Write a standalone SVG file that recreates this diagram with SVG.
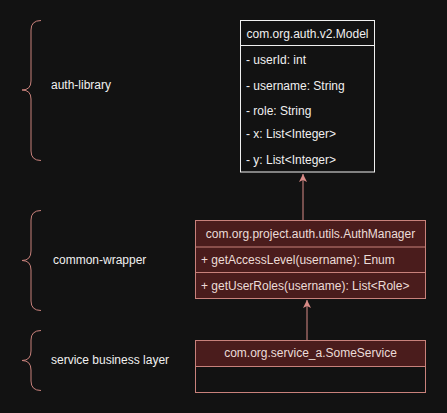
<svg xmlns="http://www.w3.org/2000/svg" width="447" height="413" viewBox="0 0 447 413">
<defs>
<style>
.t{font-family:"Liberation Sans",Arial,sans-serif;font-size:12px;}
.w{fill:#f0f0f0;}
.r{fill:#ecdcd8;}
.brace{fill:none;stroke:#c8817b;stroke-width:1;}
.box{fill:#4a1c1c;stroke:#c8817b;stroke-width:1;}
.mbox{fill:#121212;stroke:#f0f0f0;stroke-width:1;}
.edge{stroke:#d88a86;stroke-width:1;fill:none;}
</style>
<marker id="arr" viewBox="0 0 10 10" refX="10" refY="5" markerWidth="8" markerHeight="8" markerUnits="userSpaceOnUse" orient="auto">
<path d="M0,0 L10,5 L0,10 L2.5,5 Z" fill="#d88a86"/>
</marker>
</defs>
<rect width="447" height="413" fill="#121212"/>

<g id="brace-auth-library">
<path class="brace" d="M41,20.5 Q31,20.5 31,30 L31,81 Q31,90 22,90 Q31,90 31,99 L31,151 Q31,160.5 41,160.5"/>
<text class="t w" x="51" y="89">auth-library</text>
</g>
<g id="brace-common-wrapper">
<path class="brace" d="M41,210.5 Q31,210.5 31,220 L31,251 Q31,260.5 22,260.5 Q31,260.5 31,270 L31,301 Q31,310.5 41,310.5"/>
<text class="t w" x="53" y="264">common-wrapper</text>
</g>
<g id="brace-service">
<path class="brace" d="M41,330.5 Q31,330.5 31,340 L31,351 Q31,360.5 22,360.5 Q31,360.5 31,370 L31,381 Q31,390.5 41,390.5"/>
<text class="t w" x="51" y="364">service business layer</text>
</g>

<g id="model">
<rect class="mbox" x="240.5" y="20.5" width="134" height="151.5"/>
<line class="mbox" x1="240.5" y1="45.5" x2="374.5" y2="45.5"/>
<text class="t w" x="307.5" y="37.5" text-anchor="middle">com.org.auth.v2.Model</text>
<text class="t w" x="246" y="64">- userId: int</text>
<text class="t w" x="246" y="90">- username: String</text>
<text class="t w" x="246" y="115">- role: String</text>
<text class="t w" x="246" y="138">- x: List&lt;Integer&gt;</text>
<text class="t w" x="246" y="164">- y: List&lt;Integer&gt;</text>
</g>

<g id="authmanager">
<rect class="box" x="195.5" y="220.5" width="230" height="78"/>
<line class="box" x1="195.5" y1="247" x2="425.5" y2="247"/>
<line class="box" x1="195.5" y1="272.5" x2="425.5" y2="272.5"/>
<text class="t r" x="310.5" y="237.5" text-anchor="middle">com.org.project.auth.utils.AuthManager</text>
<text class="t r" x="201" y="264">+ getAccessLevel(username): Enum</text>
<text class="t r" x="201" y="290">+ getUserRoles(username): List&lt;Role&gt;</text>
</g>

<g id="someservice">
<rect class="box" x="195.5" y="340.5" width="230" height="52"/>
<line class="mbox" style="stroke:#c8817b" x1="195.5" y1="366.5" x2="425.5" y2="366.5"/>
<rect x="196" y="367" width="229" height="25" fill="#121212"/>
<text class="t r" x="310.5" y="357" text-anchor="middle">com.org.service_a.SomeService</text>
</g>

<g id="connectors">
<line class="edge" x1="303" y1="220" x2="303" y2="174" marker-end="url(#arr)"/>
<line class="edge" x1="307" y1="340" x2="307" y2="300" marker-end="url(#arr)"/>
</g>
</svg>
